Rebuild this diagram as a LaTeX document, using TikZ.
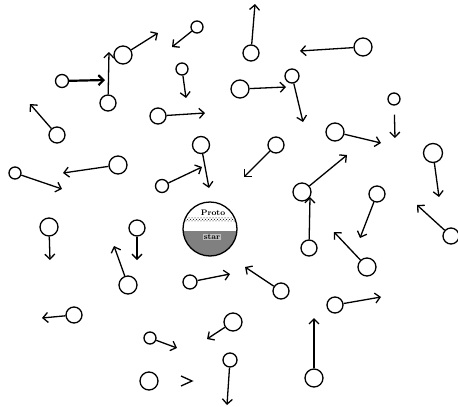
\documentclass[tikz,border=0pt]{standalone}
\usepackage{tikz}
\usetikzlibrary{arrows.meta,patterns}

\begin{document}
\begin{tikzpicture}[x=1pt,y=-1pt,line width=1.3pt,
  ball/.style={circle,draw,inner sep=0pt,minimum size=#1},
  ball/.default=16pt,
  fly/.style={-{Straight Barb[length=5pt,width=10pt]}}]
\useasboundingbox (0,0) rectangle (458,407);

% protostar in the middle
\node[circle,inner sep=0pt,minimum size=54pt] (star) at (210,229) {};
\begin{scope}
\clip (210,229) circle (27);
\fill[black!50] (180,231) rectangle (240,260);
\fill[pattern=crosshatch dots] (180,217) rectangle (240,221);
\end{scope}
\draw (210,229) circle (27);
\node[font=\fontsize{8}{8}\selectfont\bfseries,inner sep=0.5pt] (proto) at (213,213) {Proto};
\node[font=\fontsize{8}{8}\selectfont\bfseries,fill=black!25,inner sep=0.5pt] (starlbl) at (212,237) {star};

\node[ball=12pt] (b1) at (197,27) {};
\node[ball=18pt] (b2) at (123,55) {};
\node[ball=13pt] (b3) at (62,81) {};
\node[ball] (b4) at (108,103) {};
\node[ball=12pt] (b5) at (182,69) {};
\node[ball] (b6) at (158,116) {};
\node[ball] (b7) at (57,135) {};
\node[ball] (b8) at (251,53) {};
\node[ball=18pt] (b9) at (363,47) {};
\node[ball=18pt] (b10) at (240,89) {};
\node[ball=14pt] (b11) at (292,76) {};
\node[ball=12pt] (b12) at (394,99) {};
\node[ball=18pt] (b13) at (335,132) {};

\node[ball=18pt] (b14) at (118,165) {};
\node[ball=12pt] (b15) at (15,173) {};
\node[ball=17pt] (b16) at (201,145) {};
\node[ball=13pt] (b17) at (162,186) {};
\node[ball] (b18) at (276,145) {};
\node[ball=19pt] (b19) at (433,153) {};
\node[ball=18pt] (b20) at (302,192) {};
\node[ball] (b21) at (309,248) {};
\node[ball] (b22) at (377,194) {};
\node[ball] (b23) at (451,236) {};
\node[ball=18pt] (b24) at (367,267) {};
\node[ball=18pt] (b25) at (49,227) {};
\node[ball] (b26) at (137,228) {};

\node[ball=18pt] (b27) at (128,285) {};
\node[ball=14pt] (b28) at (190,282) {};
\node[ball] (b29) at (281,291) {};
\node[ball] (b30) at (335,305) {};
\node[ball=18pt] (b31) at (314,378) {};
\node[ball] (b32) at (74,315) {};
\node[ball=18pt] (b33) at (233,322) {};
\node[ball=12pt] (b34) at (150,338) {};
\node[ball=14pt] (b35) at (230,360) {};
\node[ball=18pt] (b36) at (149,381) {};

\coordinate (t1) at (172,47);
\coordinate (t2) at (158,33);
\coordinate (t3) at (105,80);
\coordinate (t4) at (109,52);
\coordinate (t5) at (186,98);
\coordinate (t6) at (205,113);
\coordinate (t7) at (30,104);
\coordinate (t8) at (255,4);
\coordinate (t9) at (300,51);
\coordinate (t10) at (286,87);
\coordinate (t11) at (303,122);
\coordinate (t12) at (395,138);
\coordinate (t13) at (381,143);
\coordinate (t14) at (63,173);
\coordinate (t15) at (62,189);
\coordinate (t16) at (209,188);
\coordinate (t17) at (202,167);
\coordinate (t18) at (244,177);
\coordinate (t19) at (439,197);
\coordinate (t20) at (347,155);
\coordinate (t21) at (310,197);
\coordinate (t22) at (360,238);
\coordinate (t23) at (417,205);
\coordinate (t24) at (334,232);
\coordinate (t25) at (50,260);
\coordinate (t26) at (137,260);
\coordinate (t27) at (114,246);
\coordinate (t28) at (230,274);
\coordinate (t29) at (245,267);
\coordinate (t30) at (381,297);
\coordinate (t31) at (314,318);
\coordinate (t32) at (42,318);
\coordinate (t33) at (207,339);
\coordinate (t34) at (177,348);
\coordinate (t35) at (227,405);

\draw[fly] (b1)--(t1);
\draw[fly] (b2)--(t2);
\draw[fly,line width=2.2pt] (b3)--(t3);
\draw[fly] (b4)--(t4);
\draw[fly] (b5)--(t5);
\draw[fly] (b6)--(t6);
\draw[fly] (b7)--(t7);
\draw[fly] (b8)--(t8);
\draw[fly] (b9)--(t9);
\draw[fly] (b10)--(t10);
\draw[fly] (b11)--(t11);
\draw[fly,shorten <=9pt] (b12)--(t12);
\draw[fly] (b13)--(t13);

\draw[fly] (b14)--(t14);
\draw[fly] (b15)--(t15);
\draw[fly] (b16)--(t16);
\draw[fly] (b17)--(t17);
\draw[fly] (b18)--(t18);
\draw[fly] (b19)--(t19);
\draw[fly] (b20)--(t20);
\draw[fly] (b21)--(t21);
\draw[fly] (b22)--(t22);
\draw[fly] (b23)--(t23);
\draw[fly] (b24)--(t24);
\draw[fly] (b25)--(t25);
\draw[fly] (b26)--(t26);

\draw[fly] (b27)--(t27);
\draw[fly] (b28)--(t28);
\draw[fly] (b29)--(t29);
\draw[fly] (b30)--(t30);
\draw[fly] (b31)--(t31);
\draw[fly] (b32)--(t32);
\draw[fly] (b33)--(t33);
\draw[fly] (b34)--(t34);
\draw[fly] (b35)--(t35);

% lone arrow head
\draw (181,376)--(192,381)--(181,386);
\end{tikzpicture}
\end{document}
